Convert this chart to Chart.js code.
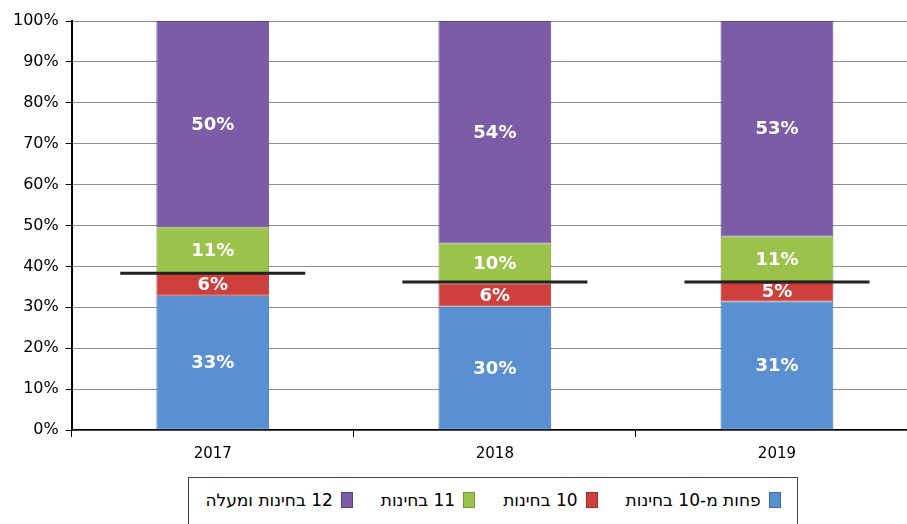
<!DOCTYPE html>
<html>
<head>
<meta charset="utf-8">
<script src="https://cdn.jsdelivr.net/npm/chart.js@4/dist/chart.umd.min.js"></script>
<style>
  html, body { margin: 0; padding: 0; background: #fff; overflow: hidden; }
  #wrap { position: relative; width: 918px; height: 479px; }
  #legend {
    position: absolute; left: 188px; top: 477px; width: 610px; height: 60px;
    border: 1px solid #444; box-sizing: border-box; background: #fff;
    display: flex; direction: rtl; justify-content: center; align-items: flex-start; gap: 28px;
    padding-top: 12px;
    font-family: "DejaVu Sans", sans-serif; font-size: 17px; color: #000;
  }
  .item { display: flex; align-items: center; gap: 8px; }
  .sw { width: 10px; height: 14px; display: inline-block; }
</style>
</head>
<body>
<div id="wrap"><canvas id="myChart"></canvas></div>
<div id="legend"></div>
<script>
// שנים
const years = ["2017", "2018", "2019"];

// שמות הסדרות
const seriesNames = ["פחות מ-10 בחינות", "10 בחינות", "11 בחינות", "12 בחינות ומעלה"];

// ערכים (אחוזים), נקראו מהתמונה
const lessThan10 = [32.8, 30.2, 31.4];
const exams10 = [5.6, 5.6, 5.0];
const exams11 = [11.2, 9.8, 10.9];
const exams12 = [50.4, 54.4, 52.7];

// הקו השחור על כל עמודה
const markerLine = [38.3, 36.2, 36.2];

const colors = ["#5a8fd2", "#cf3f3b", "#9bc24b", "#7c5ba7"];
const borders = ["#3e6ea8", "#9e2f2c", "#76963a", "#5c4280"];

const allSeries = [lessThan10, exams10, exams11, exams12];

// legend in html
const legendEl = document.getElementById("legend");
seriesNames.forEach((name, i) => {
  const item = document.createElement("div");
  item.className = "item";
  item.innerHTML = '<span class="sw" style="background:' + colors[i] + ';border:1px solid ' + borders[i] + '"></span><span>' + name + '</span>';
  legendEl.appendChild(item);
});

const labelsPlugin = {
  id: "barLabels",
  afterDatasetsDraw(chart) {
    const ctx = chart.ctx;
    ctx.save();
    ctx.font = "bold 18px 'DejaVu Sans'";
    ctx.fillStyle = "#fff";
    ctx.textAlign = "center";
    ctx.textBaseline = "middle";
    chart.data.datasets.forEach((ds, di) => {
      chart.getDatasetMeta(di).data.forEach((bar, i) => {
        const mid = (bar.y + bar.base) / 2;
        ctx.fillText(Math.round(ds.data[i]) + "%", bar.x, mid + 1);
      });
    });
    ctx.restore();
  }
};

const markerPlugin = {
  id: "markerLine",
  afterDatasetsDraw(chart) {
    const ctx = chart.ctx;
    const x = chart.scales.x;
    const y = chart.scales.y;
    const catW = x.getPixelForValue(1) - x.getPixelForValue(0);
    const half = catW * 0.328;
    ctx.save();
    ctx.strokeStyle = "#222";
    ctx.lineWidth = 3;
    markerLine.forEach((v, i) => {
      const cx = x.getPixelForValue(i);
      const py = y.getPixelForValue(v);
      ctx.beginPath();
      ctx.moveTo(cx - half, py);
      ctx.lineTo(cx + half, py);
      ctx.stroke();
    });
    ctx.restore();
  }
};

const ctx = document.querySelector("#myChart").getContext("2d");
const myChart = new Chart(ctx, {
  type: "bar",
  data: {
    labels: years,
    datasets: allSeries.map((vals, i) => ({
      label: seriesNames[i],
      data: vals,
      backgroundColor: colors[i],
      borderColor: borders[i],
      borderWidth: 1,
      borderSkipped: false,
      categoryPercentage: 1,
      barPercentage: 0.4,
    })),
  },
  options: {
    responsive: true,
    maintainAspectRatio: false,
    animation: false,
    layout: {
      padding: { top: 21, left: 6, right: 0, bottom: 8 },
    },
    plugins: {
      legend: { display: false },
      tooltip: { enabled: false },
    },
    scales: {
      x: {
        stacked: true,
        grid: {
          offset: true,
          drawOnChartArea: false,
          tickLength: 7,
          color: "#000",
        },
        border: { color: "#000", width: 1.5 },
        ticks: {
          color: "#000",
          padding: 8,
          font: { family: "DejaVu Sans", size: 15 },
        },
      },
      y: {
        stacked: true,
        min: 0,
        max: 100,
        grid: {
          color: "#8f8f8f",
          tickColor: "#000",
          tickLength: 6,
        },
        border: { color: "#000", width: 2 },
        ticks: {
          stepSize: 10,
          color: "#000",
          padding: 7,
          font: { family: "DejaVu Sans", size: 16 },
          callback: (v) => v + "%",
        },
      },
    },
  },
  plugins: [labelsPlugin, markerPlugin],
});
</script>
</body>
</html>
